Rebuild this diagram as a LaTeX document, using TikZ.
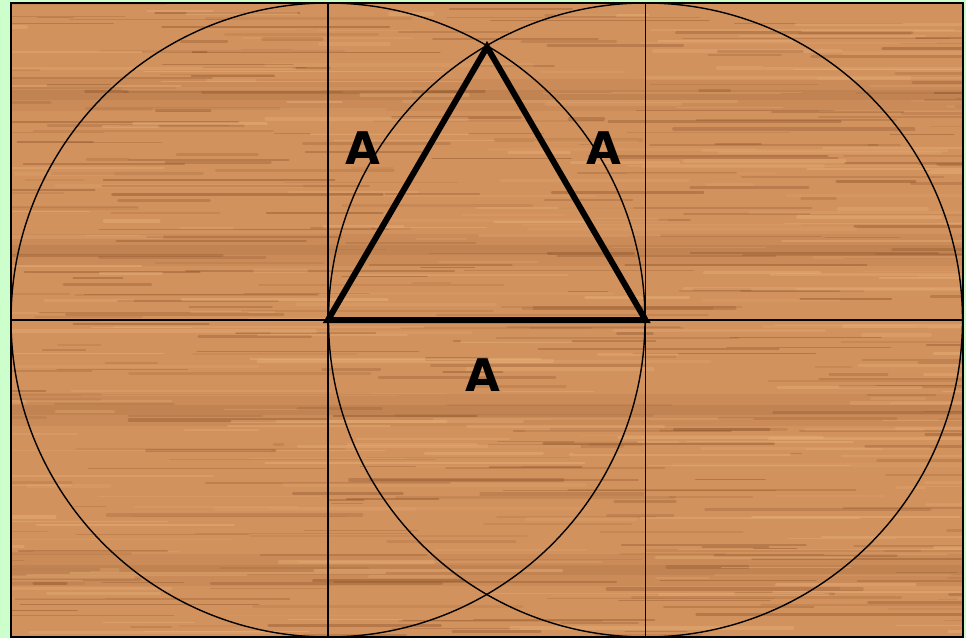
\documentclass[tikz,border=0pt]{standalone}
\usepackage{fontspec}
\newfontfamily\labelfont{DejaVu Sans}
\definecolor{bggreen}{RGB}{204,255,204}
\definecolor{woodbase}{RGB}{210,146,94}
\definecolor{wooddark}{RGB}{135,78,38}
\definecolor{woodlight}{RGB}{232,177,122}
\tikzset{
  thinline/.style={draw=black, line width=1.4pt},
  triline/.style={draw=black, line width=6pt, line join=miter},
  lbl/.style={font=\labelfont\bfseries\fontsize{45}{45}\selectfont, inner sep=0pt, text=black}
}
\begin{document}
\begin{tikzpicture}[x=1pt,y=-1pt]
\fill[bggreen] (0,0) rectangle (966,638);
\useasboundingbox (0,0) rectangle (966,638);
\fill[woodbase] (10.5,3) rectangle (963,636.5);
\begin{scope}
\clip (10.5,3) rectangle (963,636.5);
\pgfmathsetseed{11}
% broad soft bands
\foreach \by in {95,250,410,570} {
  \fill[wooddark, opacity=0.10] (0,\by-16) rectangle (970,\by+16);
  \fill[wooddark, opacity=0.12] (0,\by-5) rectangle (970,\by+5);
}
\foreach \i in {1,...,380} {
  \pgfmathsetmacro{\yy}{3+633*rnd}
  \pgfmathsetmacro{\xx}{-150+1150*rnd}
  \pgfmathsetmacro{\ll}{30+260*rnd}
  \pgfmathsetmacro{\hh}{0.8+2.8*rnd}
  \pgfmathsetmacro{\oo}{0.10+0.32*rnd}
  \draw[wooddark, opacity=\oo, line width=\hh pt, line cap=round] (\xx,\yy) -- ++(\ll,0);
}
\foreach \i in {1,...,260} {
  \pgfmathsetmacro{\yy}{3+633*rnd}
  \pgfmathsetmacro{\xx}{-150+1150*rnd}
  \pgfmathsetmacro{\ll}{40+300*rnd}
  \pgfmathsetmacro{\hh}{1+3*rnd}
  \pgfmathsetmacro{\oo}{0.15+0.35*rnd}
  \draw[woodlight, opacity=\oo, line width=\hh pt, line cap=round] (\xx,\yy) -- ++(\ll,0);
}
\end{scope}
% frame
\draw[black, line width=2pt] (10.5,3) rectangle (963,636.5);
% key points
\coordinate (TL) at (328,3);
\coordinate (BL) at (328,636.5);
\coordinate (TR) at (645.5,3);
\coordinate (BR) at (645.5,636.5);
\coordinate (ML) at (10.5,320);
\coordinate (MR) at (963,320);
\coordinate (C1) at (328,320);
\coordinate (C2) at (645.5,320);
\coordinate (Apex) at (487,47);
% grid lines
\draw[thinline] (TL) -- (BL);
\draw[thinline] (TR) -- (BR);
\draw[thinline] (ML) -- (MR);
% circles
\draw[thinline] (C1) circle[radius=317pt];
\draw[thinline] (C2) circle[radius=317pt];
% triangle
\draw[triline] (C1) -- (C2) -- (Apex) -- cycle;
% labels
\node[lbl] (LA) at (363,148) {A};
\node[lbl] (LB) at (604,148) {A};
\node[lbl] (LC) at (483,375) {A};
\end{tikzpicture}
\end{document}
